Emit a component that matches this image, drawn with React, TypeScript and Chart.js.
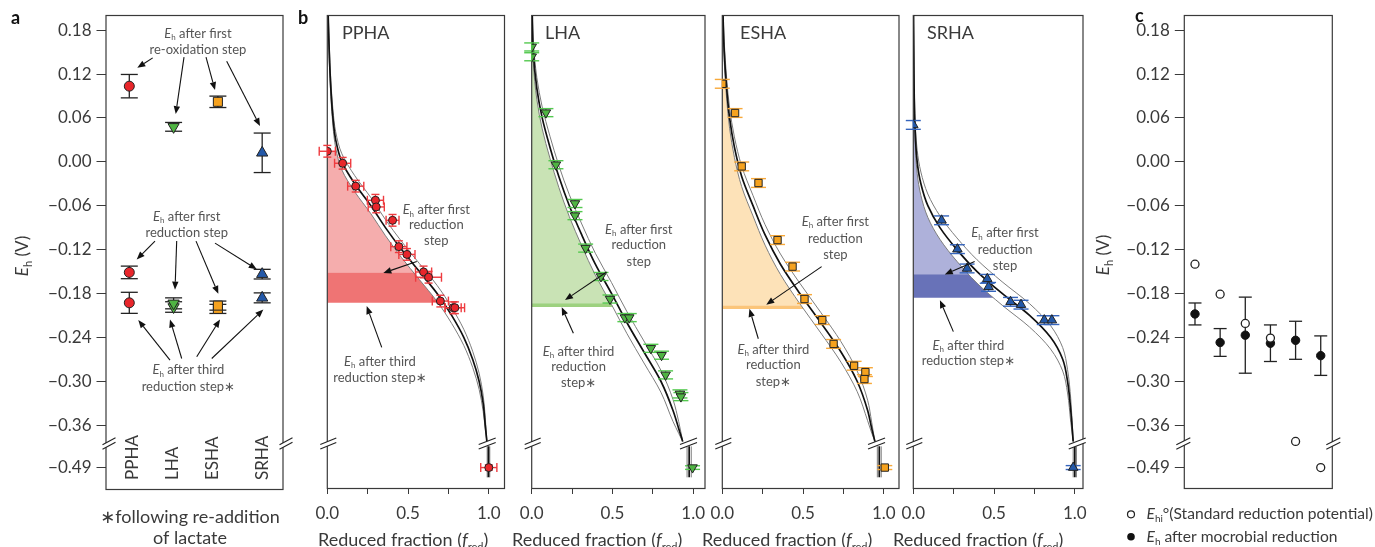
import React, { useEffect, useRef } from "react";
import { Chart, registerables } from "chart.js";
Chart.register(...registerables);

// ---------------- shared Eh axis ----------------
const ehTickValues = [0.18, 0.12, 0.06, 0.0, -0.06, -0.12, -0.18, -0.24, -0.3, -0.36, -0.49];
const EH_BREAK = -0.36;
const EH_BREAK_SCALE = 0.058 / 0.13;
const EH_MAX = 0.2;
const EH_BREAK_MARK = -0.385;

// ---------------- panel a ----------------
const samples = ["PPHA", "LHA", "ESHA", "SRHA"];
const samplePos = [1, 2, 3, 4];
const reoxEh = [0.1034, 0.0478, 0.082, 0.0123];
const reoxErr = [0.016, 0.006, 0.0078, 0.027];
const firstRedEh = [-0.1512, -0.1935, -0.1966, -0.1536];
const firstRedErr = [0.0086, 0.0075, 0.0062, 0.0066];
const thirdRedEh = [-0.1928, -0.1985, -0.2011, -0.186];
const thirdRedErr = [0.0144, 0.0072, 0.0062, 0.0068];

// ---------------- panel b (titration data + fitted curves) ----------------
const pphaF = [0.0, 0.095, 0.176, 0.298, 0.303, 0.404, 0.443, 0.493, 0.596, 0.627, 0.7, 0.779, 0.79, 1.0];
const pphaEh = [0.0144, -0.002, -0.0333, -0.0526, -0.0617, -0.08, -0.116, -0.1266, -0.1506, -0.1578, -0.1904, -0.1995, -0.1995, -0.49];
const pphaFErr = [0.05, 0.05, 0.05, 0.05, 0.05, 0.04, 0.05, 0.05, 0.05, 0.08, 0.05, 0.05, 0.06, 0.05];
const pphaEhErr = [0.008, 0.008, 0.008, 0.008, 0.008, 0.008, 0.008, 0.008, 0.008, 0.008, 0.008, 0.008, 0.008, 0.008];
const pphaCurveEh = [0.22, 0.15, 0.1, 0.06, 0.03, 0.0, -0.03, -0.06, -0.09, -0.12, -0.15, -0.18, -0.21, -0.24, -0.27, -0.3, -0.33, -0.36, -0.41];
const pphaCurveF = [0.003, 0.012, 0.022, 0.035, 0.052, 0.09, 0.17, 0.27, 0.36, 0.46, 0.57, 0.68, 0.77, 0.845, 0.9, 0.94, 0.965, 0.978, 0.988];
const pphaLowEh = [0.22, 0.139, 0.089, 0.049, 0.019, -0.011, -0.041, -0.071, -0.101, -0.131, -0.161, -0.191, -0.221, -0.251, -0.281, -0.311, -0.341, -0.371, -0.41];
const pphaHighEh = [0.22, 0.161, 0.111, 0.071, 0.041, 0.011, -0.019, -0.049, -0.079, -0.109, -0.139, -0.169, -0.199, -0.229, -0.259, -0.289, -0.319, -0.349, -0.41];
const pphaTailF = [0.99, 0.998, 1.006];

const lhaF = [0.0, 0.0, 0.088, 0.15, 0.268, 0.268, 0.334, 0.429, 0.485, 0.577, 0.604, 0.738, 0.804, 0.829, 0.918, 0.924, 0.996];
const lhaEh = [0.157, 0.1436, 0.0672, -0.004, -0.057, -0.0736, -0.118, -0.1568, -0.1876, -0.213, -0.213, -0.255, -0.2644, -0.2913, -0.3173, -0.321, -0.49];
const lhaFErr = [0, 0, 0, 0, 0, 0, 0, 0, 0, 0, 0, 0, 0, 0, 0, 0, 0];
const lhaEhErr = [0.0055, 0.0055, 0.0055, 0.0055, 0.0055, 0.0055, 0.0055, 0.0055, 0.0055, 0.0055, 0.0055, 0.0055, 0.0055, 0.0055, 0.0055, 0.0055, 0.0055];
const lhaCurveEh = [0.22, 0.15, 0.1, 0.06, 0.02, -0.02, -0.06, -0.1, -0.14, -0.18, -0.22, -0.26, -0.3, -0.34, -0.37, -0.41];
const lhaCurveF = [0.002, 0.01, 0.032, 0.065, 0.113, 0.168, 0.233, 0.31, 0.394, 0.494, 0.59, 0.695, 0.8, 0.875, 0.91, 0.935];
const lhaLowEh = [0.22, 0.135, 0.085, 0.045, 0.005, -0.035, -0.075, -0.115, -0.155, -0.195, -0.235, -0.275, -0.315, -0.355, -0.385, -0.41];
const lhaHighEh = [0.22, 0.165, 0.115, 0.075, 0.035, -0.005, -0.045, -0.085, -0.125, -0.165, -0.205, -0.245, -0.285, -0.325, -0.355, -0.41];
const lhaTailF = [0.962, 0.975, 0.988];

const eshaF = [0.0, 0.079, 0.12, 0.224, 0.342, 0.435, 0.509, 0.619, 0.689, 0.816, 0.886, 0.88, 1.006];
const eshaEh = [0.1066, 0.0667, -0.0063, -0.029, -0.107, -0.1433, -0.1876, -0.2164, -0.249, -0.2788, -0.2875, -0.297, -0.49];
const eshaFErr = [0, 0, 0, 0, 0, 0, 0, 0, 0, 0, 0, 0, 0];
const eshaEhErr = [0.006, 0.006, 0.006, 0.006, 0.006, 0.006, 0.006, 0.006, 0.006, 0.006, 0.006, 0.006, 0.006];
const eshaCurveEh = [0.22, 0.15, 0.1, 0.06, 0.02, -0.02, -0.06, -0.1, -0.14, -0.18, -0.22, -0.26, -0.3, -0.34, -0.37, -0.41];
const eshaCurveF = [0.002, 0.012, 0.027, 0.045, 0.075, 0.12, 0.19, 0.265, 0.36, 0.48, 0.61, 0.735, 0.835, 0.9, 0.925, 0.945];
const eshaLowEh = [0.22, 0.136, 0.086, 0.046, 0.006, -0.034, -0.074, -0.114, -0.154, -0.194, -0.234, -0.274, -0.314, -0.354, -0.384, -0.41];
const eshaHighEh = [0.22, 0.164, 0.114, 0.074, 0.034, -0.006, -0.046, -0.086, -0.126, -0.166, -0.206, -0.246, -0.286, -0.326, -0.356, -0.41];
const eshaTailF = [0.96, 0.972, 0.984];

const srhaF = [0.0, 0.175, 0.273, 0.333, 0.458, 0.466, 0.602, 0.667, 0.811, 0.858, 0.99];
const srhaEh = [0.0504, -0.08, -0.1194, -0.1458, -0.16, -0.171, -0.1914, -0.1953, -0.2164, -0.2164, -0.49];
const srhaFErr = [0, 0, 0, 0, 0, 0, 0, 0, 0, 0, 0];
const srhaEhErr = [0.006, 0.006, 0.006, 0.006, 0.006, 0.006, 0.006, 0.006, 0.006, 0.006, 0.006];
const srhaCurveEh = [0.22, 0.12, 0.05, 0.0, -0.03, -0.06, -0.09, -0.12, -0.15, -0.18, -0.21, -0.24, -0.27, -0.3, -0.34, -0.41];
const srhaCurveF = [0.001, 0.004, 0.01, 0.024, 0.047, 0.09, 0.165, 0.27, 0.395, 0.55, 0.72, 0.85, 0.925, 0.955, 0.975, 0.99];
const srhaLowEh = [0.22, 0.104, 0.034, -0.016, -0.046, -0.076, -0.106, -0.136, -0.166, -0.196, -0.226, -0.256, -0.286, -0.316, -0.356, -0.41];
const srhaHighEh = [0.22, 0.136, 0.066, 0.016, -0.014, -0.044, -0.074, -0.104, -0.134, -0.164, -0.194, -0.224, -0.254, -0.284, -0.324, -0.41];
const srhaTailF = [0.99, 1.0, 1.01];

const tailEh = [-0.425, -0.52];
const fTicks = [0, 0.25, 0.5, 0.75, 1.0];
const fTickLabels = ["0.0", "", "0.5", "", "1.0"];

// ---------------- panel c ----------------
const cPos = [1, 2, 3, 4, 5, 6];
const standardEh = [-0.14, -0.181, -0.221, -0.241, -0.41, -0.49];
const microbialEh = [-0.208, -0.247, -0.237, -0.248, -0.244, -0.265];
const microbialErr = [0.015, 0.019, 0.052, 0.025, 0.026, 0.027];

// ---------------- style / layout ----------------
const W = 1375, H = 547;
const FONT = 'Lato, "Open Sans", "DejaVu Sans", sans-serif';
const INK = "#3a3a3a";
const NOTE = "#555555";
const TOP = 15.5;
const PX_PER_V = 731.5;
const A_BOTTOM = 489.5;
const B_BOTTOM = 488.5;
const Y_AXIS_W = 60;
const F_PX = 161.5;
const markerFill = ["#e8262b", "#4fb443", "#f6a21e", "#2358a8"];
const markerStyle = ["circle", "triangle", "rect", "triangle"];
const markerRot = [0, 180, 0, 0];
const aMarkerR = [5, 6.5, 6.4, 6.5];
const bMarkerR = [4, 5.5, 5.2, 5.5];
const errColor = ["#ee3b3f", "#54c94f", "#f8a93a", "#3565bd"];
const capW = [4, 7.5, 7.5, 7.5];
const bandLight = ["#f5adad", "#c9e3b5", "#fde2b8", "#aeb1da"];
const bandDark = ["#ef7474", "#9dd17f", "#fbc57a", "#6872b8"];
const bLeft = [327.3, 531.7, 722.3, 913.3];
const bRight = [504.5, 705, 899, 1083];
const bTitleX = [342, 545, 740, 927];
const bAxisTitleX = [318, 512, 702, 893];
const bCurveBreakF = [0.99, 0.971, 0.955, 1.015];

type Seg = { t: string; i?: boolean; sub?: boolean; b?: boolean };
const EH: Seg[] = [{ t: "E", i: true }, { t: "h", sub: true }];

function toAxis(v: number) {
  return v >= EH_BREAK ? v : EH_BREAK + (v - EH_BREAK) * EH_BREAK_SCALE;
}
function fmtEh(v: number) {
  const s = Math.abs(v).toFixed(2);
  return v < -1e-9 ? "\u2212" + s : s;
}
function ehLabel(value: number) {
  const t = ehTickValues.find((tv) => Math.abs(toAxis(tv) - value) < 1e-6);
  return t === undefined ? "" : fmtEh(t);
}

function drawRich(ctx: any, segs: Seg[], x: number, y: number, size: number, color: string, align: string) {
  const fontOf = (s: Seg) =>
    `${s.i ? "italic " : ""}${s.b ? "bold " : ""}${s.sub ? Math.round(size * 0.62) : size}px ${FONT}`;
  let w = 0;
  for (const s of segs) {
    ctx.font = fontOf(s);
    w += ctx.measureText(s.t).width;
  }
  let cx = align === "center" ? x - w / 2 : align === "right" ? x - w : x;
  ctx.fillStyle = color;
  ctx.textAlign = "left";
  for (const s of segs) {
    ctx.font = fontOf(s);
    ctx.fillText(s.t, cx, y + (s.sub ? size * 0.3 : 0));
    cx += ctx.measureText(s.t).width;
  }
}

function seg(ctx: any, x1: number, y1: number, x2: number, y2: number) {
  ctx.beginPath();
  ctx.moveTo(x1, y1);
  ctx.lineTo(x2, y2);
  ctx.stroke();
}

function arrow(ctx: any, x1: number, y1: number, x2: number, y2: number) {
  const ang = Math.atan2(y2 - y1, x2 - x1);
  const L = 8, hw = 3.2;
  const bx = x2 - L * Math.cos(ang), by = y2 - L * Math.sin(ang);
  ctx.save();
  ctx.strokeStyle = "#111";
  ctx.fillStyle = "#111";
  ctx.lineWidth = 1.1;
  seg(ctx, x1, y1, bx, by);
  ctx.beginPath();
  ctx.moveTo(x2, y2);
  ctx.lineTo(bx + hw * Math.sin(ang), by - hw * Math.cos(ang));
  ctx.lineTo(bx - hw * Math.sin(ang), by + hw * Math.cos(ang));
  ctx.closePath();
  ctx.fill();
  ctx.restore();
}

function breakMark(ctx: any, cx: number, cy: number, halfW: number, rise: number, gap: number) {
  const x1 = cx - halfW, x2 = cx + halfW, y1 = cy + rise / 2, y2 = cy - rise / 2;
  ctx.save();
  ctx.fillStyle = "#fff";
  ctx.beginPath();
  ctx.moveTo(x1, y1 - gap / 2);
  ctx.lineTo(x2, y2 - gap / 2);
  ctx.lineTo(x2, y2 + gap / 2);
  ctx.lineTo(x1, y1 + gap / 2);
  ctx.closePath();
  ctx.fill();
  ctx.strokeStyle = "#222";
  ctx.lineWidth = 1.1;
  seg(ctx, x1, y1 - gap / 2, x2, y2 - gap / 2);
  seg(ctx, x1, y1 + gap / 2, x2, y2 + gap / 2);
  ctx.restore();
}

function drawFrame(ctx: any, ca: any) {
  ctx.save();
  ctx.strokeStyle = "#3a3a3a";
  ctx.lineWidth = 1.2;
  ctx.strokeRect(ca.left, ca.top, ca.right - ca.left, ca.bottom - ca.top);
  ctx.restore();
}

type Note = { x: number; ys: number[]; lines: Seg[][] };
function drawNotes(ctx: any, xs: any, ys: any, notes: Note[], arrows: number[][]) {
  ctx.save();
  ctx.textBaseline = "middle";
  for (const n of notes)
    n.lines.forEach((ln, i) =>
      drawRich(ctx, ln, xs.getPixelForValue(n.x), ys.getPixelForValue(toAxis(n.ys[i])), 13, NOTE, "center")
    );
  ctx.restore();
  for (const a of arrows)
    arrow(
      ctx,
      xs.getPixelForValue(a[0]),
      ys.getPixelForValue(toAxis(a[1])),
      xs.getPixelForValue(a[2]),
      ys.getPixelForValue(toAxis(a[3]))
    );
}

function drawYTitle(ctx: any, x: number, y: number) {
  ctx.save();
  ctx.translate(x, y);
  ctx.rotate(-Math.PI / 2);
  ctx.textBaseline = "middle";
  drawRich(ctx, [...EH, { t: " (V)" }], 0, 0, 17, INK, "center");
  ctx.restore();
}

function drawPanelLetter(ctx: any, letter: string, x: number, y: number) {
  ctx.save();
  ctx.textBaseline = "alphabetic";
  drawRich(ctx, [{ t: letter, b: true }], x, y, 18, "#111", "left");
  ctx.restore();
}

function ehAxis(min: number) {
  return {
    type: "linear",
    min,
    max: EH_MAX,
    position: "left",
    afterBuildTicks: (s: any) => {
      s.ticks = ehTickValues
        .slice()
        .reverse()
        .map((v) => ({ value: toAxis(v) }));
    },
    afterFit: (s: any) => {
      s.width = Y_AXIS_W;
    },
    ticks: {
      autoSkip: false,
      padding: 5,
      color: INK,
      font: { family: FONT, size: 17 },
      callback: (v: number) => ehLabel(v),
    },
    grid: { drawOnChartArea: false, drawTicks: true, tickLength: 9.5, color: INK, lineWidth: 1 },
    border: { display: false },
  };
}

const baseOptions = {
  responsive: false,
  animation: false,
  devicePixelRatio: 1,
  events: [],
  plugins: { legend: { display: false }, tooltip: { enabled: false }, title: { display: false } },
};

// ---------------- panel a config ----------------
const reoxNotes: Note[] = [
  { x: 2.55, ys: [0.1755, 0.1527], lines: [[...EH, { t: " after first" }], [{ t: "re-oxidation step" }]] },
  { x: 2.296, ys: [-0.0754, -0.0968], lines: [[...EH, { t: " after first" }], [{ t: "reduction step" }]] },
  { x: 2.332, ys: [-0.2848, -0.3072], lines: [[...EH, { t: " after third" }], [{ t: "reduction step\u2217" }]] },
];
const aArrows = [
  [1.529, 0.1421, 1.181, 0.1285],
  [2.235, 0.1431, 2.048, 0.0652],
  [2.732, 0.1431, 2.935, 0.098],
  [3.199, 0.1376, 3.951, 0.0488],
  [1.58, -0.1084, 1.167, -0.1336],
  [2.07, -0.1084, 2.032, -0.1748],
  [2.506, -0.1084, 3.01, -0.1805],
  [2.935, -0.1112, 3.877, -0.147],
  [1.919, -0.2711, 1.203, -0.2164],
  [2.183, -0.2689, 1.919, -0.2156],
  [2.522, -0.2665, 3.048, -0.2156],
  [2.861, -0.2689, 4.026, -0.202],
];
const catLabelOffset = [3.2, -1.1, -5.4, 0.3];

function panelAConfig() {
  const ds = (vals: number[]) => ({
    data: samplePos.map((x, i) => ({ x, y: toAxis(vals[i]) })),
    showLine: false,
    pointStyle: markerStyle,
    pointRotation: markerRot,
    pointRadius: aMarkerR,
    pointBackgroundColor: markerFill,
    pointBorderColor: "#222",
    pointBorderWidth: 1,
  });
  const plugin = {
    id: "panelA",
    beforeDatasetsDraw(chart: any) {
      const { ctx, chartArea: ca } = chart;
      const { x, y } = chart.scales;
      drawFrame(ctx, ca);
      ctx.save();
      ctx.strokeStyle = "#222";
      ctx.lineWidth = 1.3;
      const sets = [
        [reoxEh, reoxErr],
        [firstRedEh, firstRedErr],
        [thirdRedEh, thirdRedErr],
      ];
      for (const [vals, errs] of sets)
        vals.forEach((v, i) => {
          const px = x.getPixelForValue(samplePos[i]);
          const t = y.getPixelForValue(toAxis(v + errs[i]));
          const b = y.getPixelForValue(toAxis(v - errs[i]));
          seg(ctx, px, t, px, b);
          seg(ctx, px - 8.5, t, px + 8.5, t);
          seg(ctx, px - 8.5, b, px + 8.5, b);
        });
      ctx.restore();
    },
    afterDatasetsDraw(chart: any) {
      const { ctx, chartArea: ca } = chart;
      const { x, y } = chart.scales;
      const by = y.getPixelForValue(EH_BREAK_MARK);
      breakMark(ctx, ca.left + 3, by, 6.5, 7, 4.5);
      breakMark(ctx, ca.right + 3, by, 6.5, 7, 4.5);
      drawNotes(ctx, x, y, reoxNotes, aArrows);
      ctx.save();
      ctx.fillStyle = INK;
      ctx.font = `17px ${FONT}`;
      ctx.textBaseline = "middle";
      ctx.textAlign = "left";
      samples.forEach((s, i) => {
        ctx.save();
        ctx.translate(x.getPixelForValue(samplePos[i]) + catLabelOffset[i], 480);
        ctx.rotate(-Math.PI / 2);
        ctx.fillText(s, 0, 0);
        ctx.restore();
      });
      ctx.textAlign = "center";
      ctx.textBaseline = "alphabetic";
      ctx.font = `18px ${FONT}`;
      ctx.fillText("\u2217following re-addition", 190, 523);
      ctx.fillText("of lactate", 190, 544);
      ctx.restore();
      drawYTitle(ctx, 23, 256);
      drawPanelLetter(ctx, "a", 11, 24);
    },
  };
  return {
    type: "line",
    data: { datasets: [ds(reoxEh), ds(firstRedEh), ds(thirdRedEh)] },
    options: {
      ...baseOptions,
      layout: { padding: { left: 106 - Y_AXIS_W, right: W - 283, top: TOP, bottom: H - A_BOTTOM } },
      scales: {
        x: { type: "linear", min: 0.474, max: 4.47, display: false },
        y: ehAxis(EH_MAX - (A_BOTTOM - TOP) / PX_PER_V),
      },
    },
    plugins: [plugin],
  };
}

// ---------------- panel b configs ----------------
const firstNote3: Seg[][] = [[...EH, { t: " after first" }], [{ t: "reduction" }], [{ t: "step" }]];
const thirdNote2: Seg[][] = [[...EH, { t: " after third" }], [{ t: "reduction step\u2217" }]];
const thirdNote3: Seg[][] = [[...EH, { t: " after third" }], [{ t: "reduction" }], [{ t: "step\u2217" }]];

const bPanels = [
  {
    f: pphaF, eh: pphaEh, fErr: pphaFErr, ehErr: pphaEhErr,
    curveEh: pphaCurveEh, curveF: pphaCurveF, lowEh: pphaLowEh, highEh: pphaHighEh, tailF: pphaTailF,
    notes: [
      { x: 0.675, ys: [-0.066, -0.0866, -0.1085], lines: firstNote3 },
      { x: 0.326, ys: [-0.2729, -0.2949], lines: thirdNote2 },
    ],
    arrows: [
      [0.554, -0.1362, 0.347, -0.152],
      [0.337, -0.2537, 0.244, -0.1973],
    ],
  },
  {
    f: lhaF, eh: lhaEh, fErr: lhaFErr, ehErr: lhaEhErr,
    curveEh: lhaCurveEh, curveF: lhaCurveF, lowEh: lhaLowEh, highEh: lhaHighEh, tailF: lhaTailF,
    notes: [
      { x: 0.663, ys: [-0.0929, -0.1135, -0.1362], lines: firstNote3 },
      { x: 0.29, ys: [-0.2592, -0.2798, -0.3018], lines: thirdNote3 },
    ],
    arrows: [
      [0.464, -0.1506, 0.206, -0.189],
      [0.258, -0.2345, 0.186, -0.1987],
    ],
  },
  {
    f: eshaF, eh: eshaEh, fErr: eshaFErr, ehErr: eshaEhErr,
    curveEh: eshaCurveEh, curveF: eshaCurveF, lowEh: eshaLowEh, highEh: eshaHighEh, tailF: eshaTailF,
    notes: [
      { x: 0.7, ys: [-0.0819, -0.105, -0.1272], lines: firstNote3 },
      { x: 0.316, ys: [-0.2565, -0.2779, -0.3004], lines: thirdNote3 },
    ],
    arrows: [
      [0.615, -0.1433, 0.272, -0.1953],
      [0.223, -0.2419, 0.168, -0.201],
    ],
  },
  {
    f: srhaF, eh: srhaEh, fErr: srhaFErr, ehErr: srhaEhErr,
    curveEh: srhaCurveEh, curveF: srhaCurveF, lowEh: srhaLowEh, highEh: srhaHighEh, tailF: srhaTailF,
    notes: [
      { x: 0.568, ys: [-0.0977, -0.1203, -0.1423], lines: firstNote3 },
      { x: 0.341, ys: [-0.2515, -0.2721], lines: thirdNote2 },
    ],
    arrows: [
      [0.38, -0.1362, 0.195, -0.1539],
      [0.248, -0.2322, 0.165, -0.1891],
    ],
  },
];

function panelBConfig(p: any, k: number) {
  const L = bLeft[k], R = bRight[k];
  const pt = (f: number, e: number) => ({ x: f, y: toAxis(e) });
  const curve = (eh: number[], f: number[]) => eh.map((e, i) => pt(f[i], e));
  const lineDs = (data: any[], color: string, width: number, order: number) => ({
    data,
    borderColor: color,
    borderWidth: width,
    pointRadius: 0,
    showLine: true,
    fill: false,
    cubicInterpolationMode: "monotone",
    order,
  });
  const plugin = {
    id: "panelB" + k,
    beforeDatasetsDraw(chart: any) {
      const { ctx, chartArea: ca } = chart;
      const { x, y } = chart.scales;
      const line = chart.getDatasetMeta(2).dataset;
      if (line && line.points && line.points.length) {
        if (line.updateControlPoints) line.updateControlPoints(ca, "y");
        const bands = [
          [p.eh[0], firstRedEh[k], bandLight[k]],
          [firstRedEh[k], thirdRedEh[k], bandDark[k]],
        ];
        const x0 = x.getPixelForValue(0);
        for (const [top, bot, color] of bands) {
          const yt = y.getPixelForValue(toAxis(top as number));
          const yb = y.getPixelForValue(toAxis(bot as number));
          ctx.save();
          ctx.beginPath();
          ctx.rect(ca.left, yt, ca.right - ca.left, yb - yt);
          ctx.clip();
          ctx.beginPath();
          line.path(ctx);
          const pts = line.points;
          ctx.lineTo(x0, pts[pts.length - 1].y);
          ctx.lineTo(x0, pts[0].y);
          ctx.closePath();
          ctx.fillStyle = color;
          ctx.fill();
          ctx.restore();
        }
      }
      drawFrame(ctx, ca);
    },
    beforeDatasetDraw(chart: any, args: any) {
      if (args.index !== 0) return;
      const { ctx } = chart;
      const { x, y } = chart.scales;
      ctx.save();
      ctx.strokeStyle = errColor[k];
      ctx.lineWidth = 1.4;
      p.f.forEach((f: number, i: number) => {
        const px = x.getPixelForValue(f);
        const py = y.getPixelForValue(toAxis(p.eh[i]));
        if (p.fErr[i] > 0) {
          const a = x.getPixelForValue(f - p.fErr[i]);
          const b = x.getPixelForValue(f + p.fErr[i]);
          seg(ctx, a, py, b, py);
          seg(ctx, a, py - 4.5, a, py + 4.5);
          seg(ctx, b, py - 4.5, b, py + 4.5);
        }
        const t = y.getPixelForValue(toAxis(p.eh[i] + p.ehErr[i]));
        const bt = y.getPixelForValue(toAxis(p.eh[i] - p.ehErr[i]));
        seg(ctx, px, t, px, bt);
        seg(ctx, px - capW[k], t, px + capW[k], t);
        seg(ctx, px - capW[k], bt, px + capW[k], bt);
      });
      ctx.restore();
    },
    afterDatasetsDraw(chart: any) {
      const { ctx, chartArea: ca } = chart;
      const { x, y } = chart.scales;
      const by = y.getPixelForValue(EH_BREAK_MARK);
      breakMark(ctx, ca.left + 1, by, 8, 6.5, 4.5);
      breakMark(ctx, x.getPixelForValue(bCurveBreakF[k]), by, 8.5, 6.5, 4.5);
      drawNotes(ctx, x, y, p.notes, p.arrows);
      ctx.save();
      ctx.textBaseline = "alphabetic";
      drawRich(ctx, [{ t: samples[k] }], bTitleX[k], 39, 18, INK, "left");
      drawRich(
        ctx,
        [{ t: "Reduced fraction (" }, { t: "f", i: true }, { t: "red", sub: true }, { t: ")" }],
        bAxisTitleX[k],
        546,
        18,
        INK,
        "left"
      );
      ctx.restore();
      if (k === 0) drawPanelLetter(ctx, "b", 298, 24);
    },
  };
  return {
    type: "line",
    data: {
      datasets: [
        {
          data: p.f.map((f: number, i: number) => pt(f, p.eh[i])),
          showLine: false,
          pointStyle: markerStyle[k],
          pointRotation: markerRot[k],
          pointRadius: bMarkerR[k],
          pointBackgroundColor: markerFill[k],
          pointBorderColor: "#222",
          pointBorderWidth: 1,
          order: 0,
        },
        lineDs(curve(p.curveEh, p.curveF), "#111", 1.7, 1),
        lineDs(curve(p.lowEh, p.curveF), "#7d7d7d", 1, 2),
        lineDs(curve(p.highEh, p.curveF), "#7d7d7d", 1, 2),
        lineDs(tailEh.map((e) => pt(p.tailF[1], e)), "#111", 1.7, 1),
        lineDs(tailEh.map((e) => pt(p.tailF[0], e)), "#7d7d7d", 1, 2),
        lineDs(tailEh.map((e) => pt(p.tailF[2], e)), "#7d7d7d", 1, 2),
      ],
    },
    options: {
      ...baseOptions,
      indexAxis: "y",
      layout: { padding: { left: L, right: W - R, top: TOP, bottom: H - B_BOTTOM - 40 } },
      scales: {
        x: {
          type: "linear",
          min: 0,
          max: (R - L) / F_PX,
          position: "bottom",
          afterBuildTicks: (s: any) => {
            s.ticks = fTicks.map((v) => ({ value: v }));
          },
          afterFit: (s: any) => {
            s.height = 40;
          },
          ticks: {
            autoSkip: false,
            maxRotation: 0,
            padding: 9,
            color: INK,
            font: { family: FONT, size: 17 },
            callback: (_v: number, i: number) => fTickLabels[i],
          },
          grid: { drawOnChartArea: false, drawTicks: true, tickLength: 5.5, color: INK, lineWidth: 1 },
          border: { display: false },
        },
        y: { type: "linear", min: EH_MAX - (B_BOTTOM - TOP) / PX_PER_V, max: EH_MAX, display: false },
      },
    },
    plugins: [plugin],
  };
}

// ---------------- panel c config ----------------
function panelCConfig() {
  const plugin = {
    id: "panelC",
    beforeDatasetsDraw(chart: any) {
      const { ctx, chartArea: ca } = chart;
      const { x, y } = chart.scales;
      drawFrame(ctx, ca);
      ctx.save();
      ctx.strokeStyle = "#222";
      ctx.lineWidth = 1.3;
      microbialEh.forEach((v, i) => {
        const px = x.getPixelForValue(cPos[i]);
        const t = y.getPixelForValue(toAxis(v + microbialErr[i]));
        const b = y.getPixelForValue(toAxis(v - microbialErr[i]));
        seg(ctx, px, t, px, b);
        seg(ctx, px - 6.5, t, px + 6.5, t);
        seg(ctx, px - 6.5, b, px + 6.5, b);
      });
      ctx.restore();
    },
    afterDatasetsDraw(chart: any) {
      const { ctx, chartArea: ca } = chart;
      const { y } = chart.scales;
      const by = y.getPixelForValue(EH_BREAK_MARK);
      breakMark(ctx, ca.left - 1, by, 7, 7, 4.5);
      breakMark(ctx, ca.right + 1, by, 7, 7, 4.5);
      drawYTitle(ctx, 1104, 255);
      drawPanelLetter(ctx, "c", 1135, 22);
      // legend
      ctx.save();
      ctx.lineWidth = 1.2;
      ctx.strokeStyle = "#222";
      ctx.fillStyle = "#fff";
      ctx.beginPath();
      ctx.arc(1131, 514.3, 3.5, 0, Math.PI * 2);
      ctx.fill();
      ctx.stroke();
      ctx.fillStyle = "#111";
      ctx.beginPath();
      ctx.arc(1131, 536.7, 3.8, 0, Math.PI * 2);
      ctx.fill();
      ctx.textBaseline = "middle";
      drawRich(
        ctx,
        [{ t: "E", i: true }, { t: "hi", sub: true }, { t: "\u00b0(Standard reduction potential)" }],
        1146.5,
        514.3,
        15.6,
        INK,
        "left"
      );
      drawRich(ctx, [...EH, { t: " after mocrobial reduction" }], 1146.5, 536.7, 15.6, INK, "left");
      ctx.restore();
    },
  };
  return {
    type: "line",
    data: {
      datasets: [
        {
          data: cPos.map((x, i) => ({ x, y: toAxis(standardEh[i]) })),
          showLine: false,
          pointStyle: "circle",
          pointRadius: 4,
          pointBackgroundColor: "#fff",
          pointBorderColor: "#222",
          pointBorderWidth: 1.3,
        },
        {
          data: cPos.map((x, i) => ({ x, y: toAxis(microbialEh[i]) })),
          showLine: false,
          pointStyle: "circle",
          pointRadius: 4.2,
          pointBackgroundColor: "#111",
          pointBorderColor: "#111",
          pointBorderWidth: 1,
        },
      ],
    },
    options: {
      ...baseOptions,
      layout: { padding: { left: 1184.3 - Y_AXIS_W, right: W - 1332.3, top: TOP, bottom: H - B_BOTTOM } },
      scales: {
        x: { type: "linear", min: 0.575, max: 6.46, display: false },
        y: ehAxis(EH_MAX - (B_BOTTOM - TOP) / PX_PER_V),
      },
    },
    plugins: [plugin],
  };
}

export default function App() {
  const aRef = useRef<HTMLCanvasElement>(null);
  const b0 = useRef<HTMLCanvasElement>(null);
  const b1 = useRef<HTMLCanvasElement>(null);
  const b2 = useRef<HTMLCanvasElement>(null);
  const b3 = useRef<HTMLCanvasElement>(null);
  const cRef = useRef<HTMLCanvasElement>(null);
  useEffect(() => {
    const charts: Chart[] = [];
    charts.push(new Chart(aRef.current as any, panelAConfig() as any));
    [b0, b1, b2, b3].forEach((r, k) => charts.push(new Chart(r.current as any, panelBConfig(bPanels[k], k) as any)));
    charts.push(new Chart(cRef.current as any, panelCConfig() as any));
    return () => charts.forEach((c) => c.destroy());
  }, []);
  const cv: React.CSSProperties = { position: "absolute", left: 0, top: 0, width: W, height: H };
  return (
    <div style={{ position: "absolute", left: 0, top: 0, width: W, height: H, overflow: "hidden", background: "#fff" }}>
      <canvas ref={aRef} width={W} height={H} style={cv} />
      <canvas ref={b0} width={W} height={H} style={cv} />
      <canvas ref={b1} width={W} height={H} style={cv} />
      <canvas ref={b2} width={W} height={H} style={cv} />
      <canvas ref={b3} width={W} height={H} style={cv} />
      <canvas ref={cRef} width={W} height={H} style={cv} />
    </div>
  );
}
